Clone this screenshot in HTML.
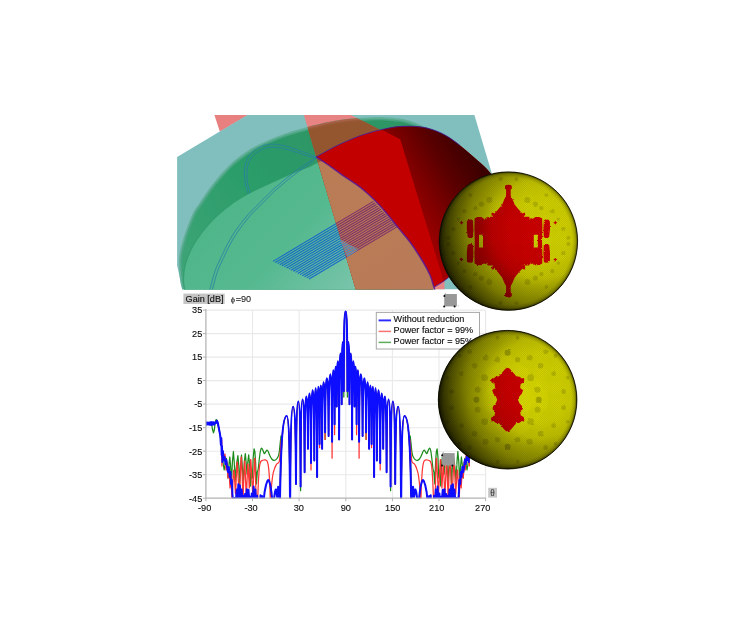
<!DOCTYPE html>
<html><head><meta charset="utf-8"><title>figure</title>
<style>
html,body{margin:0;padding:0;background:#fff;}
body{width:753px;height:628px;overflow:hidden;font-family:"Liberation Sans",sans-serif;}
svg{display:block;}
text{font-family:"Liberation Sans",sans-serif;}
</style></head><body>
<svg width="753" height="628" viewBox="0 0 753 628">
<defs><filter id="gblur" filterUnits="userSpaceOnUse" x="0" y="0" width="753" height="628"><feGaussianBlur stdDeviation="0.42"/></filter></defs>
<rect width="753" height="628" fill="#fff"/>
<g filter="url(#gblur)">
<rect width="753" height="628" fill="#fff"/>
<defs>
<clipPath id="sceneclip"><rect x="177" y="115.0" width="360" height="174.6"/></clipPath>
<clipPath id="pinkclip"><polygon points="303.9,115.0 351.0,115.0 380.3,129.9 470.0,170.0 470.0,289.6 355.7,289.6"/></clipPath>
<linearGradient id="floorg" x1="200" y1="170" x2="340" y2="300" gradientUnits="userSpaceOnUse"><stop offset="0" stop-color="#4cb487"/><stop offset="0.6" stop-color="#55b98f"/><stop offset="1" stop-color="#78c4aa"/></linearGradient>
<linearGradient id="wallg" x1="190" y1="250" x2="330" y2="130" gradientUnits="userSpaceOnUse"><stop offset="0" stop-color="#3aa374"/><stop offset="0.5" stop-color="#2a9d69"/><stop offset="1" stop-color="#2f9565"/></linearGradient>
<linearGradient id="floorb" x1="330" y1="170" x2="420" y2="290" gradientUnits="userSpaceOnUse"><stop offset="0" stop-color="#b97c55"/><stop offset="1" stop-color="#b87a58"/></linearGradient>
<linearGradient id="darkred" x1="395" y1="200" x2="480" y2="150" gradientUnits="userSpaceOnUse"><stop offset="0" stop-color="#a60000"/><stop offset="0.3" stop-color="#820000"/><stop offset="0.6" stop-color="#5a0000"/><stop offset="0.9" stop-color="#3e0000"/><stop offset="1" stop-color="#380000"/></linearGradient>
</defs>
<g clip-path="url(#sceneclip)">
<polygon points="214.4,115.0 248.0,115.0 219.9,131.8" fill="#e88080"/>
<polygon points="247.4,115.0 474.4,115.0 526.5,289.6 182.4,289.6 177.1,265.4 177.1,157.0" fill="#81bfbf"/>
<polygon points="303.9,115.0 351.0,115.0 380.3,129.9 445.0,160.0 444.5,289.6 355.7,289.6" fill="#e88383"/>
<path d="M182.40,290.00 C182.00,288.20 180.58,284.45 180.00,279.20 C179.42,273.95 178.32,265.42 178.90,258.50 C179.48,251.58 181.27,245.05 183.50,237.70 C185.73,230.35 189.73,220.07 192.30,214.40 C194.87,208.73 196.47,207.47 198.90,203.70 C201.33,199.93 204.25,195.55 206.90,191.80 C209.55,188.05 211.93,184.75 214.80,181.20 C217.67,177.65 221.00,173.83 224.10,170.50 C227.20,167.17 230.08,164.07 233.40,161.20 C236.72,158.33 240.45,155.73 244.00,153.30 C247.55,150.87 250.70,148.78 254.70,146.60 C258.70,144.42 262.78,142.43 268.00,140.20 C273.22,137.97 279.47,135.40 286.00,133.20 C292.53,131.00 299.87,128.90 307.20,127.00 C314.53,125.10 322.92,123.17 330.00,121.80 C337.08,120.43 343.03,119.55 349.70,118.80 C356.37,118.05 364.12,117.57 370.00,117.30 C375.88,117.03 380.00,116.98 385.00,117.20 C390.00,117.42 395.50,117.87 400.00,118.60 C404.50,119.33 408.17,120.37 412.00,121.60 C415.83,122.83 417.23,123.62 423.00,126.00 C428.77,128.38 438.25,130.82 446.60,135.90 C454.95,140.98 465.80,150.20 473.10,156.50 C480.40,162.80 487.52,170.83 490.40,173.70 L520,226 L434.0,287.3 L432.6,290 Z" fill="#64b09a"/>
<path d="M184.06,289.63 C183.66,287.86 182.27,284.18 181.69,279.01 C181.11,273.85 180.02,265.45 180.59,258.64 C181.17,251.84 182.92,245.45 185.13,238.19 C187.34,230.94 191.31,220.70 193.85,215.10 C196.38,209.51 197.92,208.34 200.33,204.62 C202.73,200.90 205.66,196.51 208.29,192.78 C210.92,189.06 213.28,185.79 216.12,182.27 C218.97,178.75 222.28,174.95 225.34,171.66 C228.41,168.36 231.24,165.31 234.51,162.49 C237.78,159.66 241.46,157.10 244.96,154.70 C248.46,152.30 251.56,150.25 255.51,148.09 C259.47,145.94 263.50,143.98 268.67,141.76 C273.84,139.55 280.05,137.00 286.54,134.81 C293.04,132.62 300.33,130.54 307.63,128.65 C314.92,126.76 323.28,124.83 330.32,123.47 C337.37,122.11 343.26,121.23 349.89,120.49 C356.52,119.74 364.24,119.26 370.08,119.00 C375.92,118.73 379.98,118.69 384.93,118.90 C389.87,119.11 395.30,119.56 399.73,120.28 C404.15,121.00 407.71,122.00 411.48,123.22 C415.25,124.43 416.64,125.22 422.35,127.57 C428.06,129.93 437.44,132.32 445.72,137.35 C453.99,142.39 464.74,151.53 471.99,157.79 C479.24,164.05 486.33,172.05 489.20,174.91 L520,226 L434.0,287.3 L432.6,290 Z" fill="#48a481"/>
<path d="M185.62,289.28 C185.23,287.54 183.85,283.92 183.28,278.84 C182.71,273.75 181.63,265.47 182.19,258.78 C182.75,252.08 184.47,245.83 186.66,238.66 C188.84,231.49 192.80,221.29 195.31,215.76 C197.81,210.23 199.29,209.17 201.67,205.49 C204.05,201.81 206.98,197.41 209.59,193.70 C212.21,190.00 214.55,186.77 217.37,183.27 C220.19,179.78 223.48,176.01 226.52,172.75 C229.55,169.48 232.33,166.48 235.56,163.70 C238.78,160.91 242.41,158.39 245.87,156.02 C249.32,153.66 252.38,151.63 256.28,149.50 C260.19,147.37 264.17,145.43 269.30,143.23 C274.43,141.04 280.60,138.50 287.05,136.33 C293.51,134.15 300.77,132.08 308.03,130.19 C315.29,128.31 323.62,126.39 330.63,125.04 C337.63,123.69 343.48,122.82 350.07,122.08 C356.66,121.34 364.35,120.86 370.15,120.60 C375.95,120.33 379.97,120.29 384.86,120.50 C389.74,120.71 395.11,121.15 399.47,121.86 C403.82,122.56 407.28,123.54 410.99,124.74 C414.70,125.94 416.09,126.72 421.74,129.05 C427.39,131.38 436.68,133.73 444.88,138.72 C453.08,143.71 463.75,152.78 470.94,159.00 C478.14,165.22 485.22,173.20 488.07,176.04 L520,226 L434.0,287.3 L432.6,290 Z" fill="url(#wallg)"/>
<path d="M184.70,290.00 C184.50,288.20 183.32,283.68 183.50,279.20 C183.68,274.72 183.87,269.25 185.80,263.10 C187.73,256.95 190.87,249.23 195.10,242.30 C199.33,235.37 205.43,227.65 211.20,221.50 C216.97,215.35 223.53,210.02 229.70,205.40 C235.87,200.78 242.43,197.03 248.20,193.80 C253.97,190.57 257.77,189.07 264.30,186.00 C270.83,182.93 281.37,178.07 287.40,175.40 C293.43,172.73 296.77,171.50 300.50,170.00 C304.23,168.50 307.13,167.57 309.80,166.40 C312.47,165.23 314.38,163.90 316.50,163.00 C318.62,162.10 321.50,161.33 322.50,161.00 L322.50,161.00 C323.92,161.97 327.05,164.02 331.00,166.80 C334.95,169.58 342.03,174.80 346.20,177.70 C350.37,180.60 352.87,181.95 356.00,184.20 C359.13,186.45 361.83,188.48 365.00,191.20 C368.17,193.92 371.58,197.03 375.00,200.50 C378.42,203.97 381.60,207.43 385.50,212.00 C389.40,216.57 394.28,222.85 398.40,227.90 C402.52,232.95 406.28,236.95 410.20,242.30 C414.12,247.65 418.60,254.55 421.90,260.00 C425.20,265.45 427.98,270.45 430.00,275.00 C432.02,279.55 433.17,284.80 434.00,287.30 C434.83,289.80 434.83,289.55 435.00,290.00 Z" fill="url(#floorg)"/>
<path d="M184.70,290.00 C184.50,288.20 183.32,283.68 183.50,279.20 C183.68,274.72 183.87,269.25 185.80,263.10 C187.73,256.95 190.87,249.23 195.10,242.30 C199.33,235.37 205.43,227.65 211.20,221.50 C216.97,215.35 223.53,210.02 229.70,205.40 C235.87,200.78 242.43,197.03 248.20,193.80 C253.97,190.57 257.77,189.07 264.30,186.00 C270.83,182.93 281.37,178.07 287.40,175.40 C293.43,172.73 296.77,171.50 300.50,170.00 C304.23,168.50 307.13,167.57 309.80,166.40 C312.47,165.23 314.38,163.90 316.50,163.00 C318.62,162.10 321.50,161.33 322.50,161.00" fill="none" stroke="#2f9a6a" stroke-width="1.2" opacity="0.7"/>
<g clip-path="url(#pinkclip)">
<path d="M182.40,290.00 C182.00,288.20 180.58,284.45 180.00,279.20 C179.42,273.95 178.32,265.42 178.90,258.50 C179.48,251.58 181.27,245.05 183.50,237.70 C185.73,230.35 189.73,220.07 192.30,214.40 C194.87,208.73 196.47,207.47 198.90,203.70 C201.33,199.93 204.25,195.55 206.90,191.80 C209.55,188.05 211.93,184.75 214.80,181.20 C217.67,177.65 221.00,173.83 224.10,170.50 C227.20,167.17 230.08,164.07 233.40,161.20 C236.72,158.33 240.45,155.73 244.00,153.30 C247.55,150.87 250.70,148.78 254.70,146.60 C258.70,144.42 262.78,142.43 268.00,140.20 C273.22,137.97 279.47,135.40 286.00,133.20 C292.53,131.00 299.87,128.90 307.20,127.00 C314.53,125.10 322.92,123.17 330.00,121.80 C337.08,120.43 343.03,119.55 349.70,118.80 C356.37,118.05 364.12,117.57 370.00,117.30 C375.88,117.03 380.00,116.98 385.00,117.20 C390.00,117.42 395.50,117.87 400.00,118.60 C404.50,119.33 408.17,120.37 412.00,121.60 C415.83,122.83 417.23,123.62 423.00,126.00 C428.77,128.38 438.25,130.82 446.60,135.90 C454.95,140.98 465.80,150.20 473.10,156.50 C480.40,162.80 487.52,170.83 490.40,173.70 L520,226 L434.0,287.3 L432.6,290 Z" fill="#a96248"/>
<path d="M184.06,289.63 C183.66,287.86 182.27,284.18 181.69,279.01 C181.11,273.85 180.02,265.45 180.59,258.64 C181.17,251.84 182.92,245.45 185.13,238.19 C187.34,230.94 191.31,220.70 193.85,215.10 C196.38,209.51 197.92,208.34 200.33,204.62 C202.73,200.90 205.66,196.51 208.29,192.78 C210.92,189.06 213.28,185.79 216.12,182.27 C218.97,178.75 222.28,174.95 225.34,171.66 C228.41,168.36 231.24,165.31 234.51,162.49 C237.78,159.66 241.46,157.10 244.96,154.70 C248.46,152.30 251.56,150.25 255.51,148.09 C259.47,145.94 263.50,143.98 268.67,141.76 C273.84,139.55 280.05,137.00 286.54,134.81 C293.04,132.62 300.33,130.54 307.63,128.65 C314.92,126.76 323.28,124.83 330.32,123.47 C337.37,122.11 343.26,121.23 349.89,120.49 C356.52,119.74 364.24,119.26 370.08,119.00 C375.92,118.73 379.98,118.69 384.93,118.90 C389.87,119.11 395.30,119.56 399.73,120.28 C404.15,121.00 407.71,122.00 411.48,123.22 C415.25,124.43 416.64,125.22 422.35,127.57 C428.06,129.93 437.44,132.32 445.72,137.35 C453.99,142.39 464.74,151.53 471.99,157.79 C479.24,164.05 486.33,172.05 489.20,174.91 L520,226 L434.0,287.3 L432.6,290 Z" fill="#9a5a38"/>
<path d="M185.62,289.28 C185.23,287.54 183.85,283.92 183.28,278.84 C182.71,273.75 181.63,265.47 182.19,258.78 C182.75,252.08 184.47,245.83 186.66,238.66 C188.84,231.49 192.80,221.29 195.31,215.76 C197.81,210.23 199.29,209.17 201.67,205.49 C204.05,201.81 206.98,197.41 209.59,193.70 C212.21,190.00 214.55,186.77 217.37,183.27 C220.19,179.78 223.48,176.01 226.52,172.75 C229.55,169.48 232.33,166.48 235.56,163.70 C238.78,160.91 242.41,158.39 245.87,156.02 C249.32,153.66 252.38,151.63 256.28,149.50 C260.19,147.37 264.17,145.43 269.30,143.23 C274.43,141.04 280.60,138.50 287.05,136.33 C293.51,134.15 300.77,132.08 308.03,130.19 C315.29,128.31 323.62,126.39 330.63,125.04 C337.63,123.69 343.48,122.82 350.07,122.08 C356.66,121.34 364.35,120.86 370.15,120.60 C375.95,120.33 379.97,120.29 384.86,120.50 C389.74,120.71 395.11,121.15 399.47,121.86 C403.82,122.56 407.28,123.54 410.99,124.74 C414.70,125.94 416.09,126.72 421.74,129.05 C427.39,131.38 436.68,133.73 444.88,138.72 C453.08,143.71 463.75,152.78 470.94,159.00 C478.14,165.22 485.22,173.20 488.07,176.04 L520,226 L434.0,287.3 L432.6,290 Z" fill="#94562f"/>
<path d="M184.70,290.00 C184.50,288.20 183.32,283.68 183.50,279.20 C183.68,274.72 183.87,269.25 185.80,263.10 C187.73,256.95 190.87,249.23 195.10,242.30 C199.33,235.37 205.43,227.65 211.20,221.50 C216.97,215.35 223.53,210.02 229.70,205.40 C235.87,200.78 242.43,197.03 248.20,193.80 C253.97,190.57 257.77,189.07 264.30,186.00 C270.83,182.93 281.37,178.07 287.40,175.40 C293.43,172.73 296.77,171.50 300.50,170.00 C304.23,168.50 307.13,167.57 309.80,166.40 C312.47,165.23 314.38,163.90 316.50,163.00 C318.62,162.10 321.50,161.33 322.50,161.00 L322.50,161.00 C323.92,161.97 327.05,164.02 331.00,166.80 C334.95,169.58 342.03,174.80 346.20,177.70 C350.37,180.60 352.87,181.95 356.00,184.20 C359.13,186.45 361.83,188.48 365.00,191.20 C368.17,193.92 371.58,197.03 375.00,200.50 C378.42,203.97 381.60,207.43 385.50,212.00 C389.40,216.57 394.28,222.85 398.40,227.90 C402.52,232.95 406.28,236.95 410.20,242.30 C414.12,247.65 418.60,254.55 421.90,260.00 C425.20,265.45 427.98,270.45 430.00,275.00 C432.02,279.55 433.17,284.80 434.00,287.30 C434.83,289.80 434.83,289.55 435.00,290.00 Z" fill="url(#floorb)"/>
</g>
<path d="M248.40,193.80 C247.98,192.58 246.50,188.90 245.90,186.50 C245.30,184.10 245.05,181.65 244.80,179.40 C244.55,177.15 244.40,174.98 244.40,173.00 C244.40,171.02 244.53,169.37 244.80,167.50 C245.07,165.63 245.40,163.60 246.00,161.80 C246.60,160.00 247.48,158.20 248.40,156.70 C249.32,155.20 250.32,153.98 251.50,152.80 C252.68,151.62 253.43,150.83 255.50,149.60 C257.57,148.37 260.70,146.30 263.90,145.40 C267.10,144.50 270.72,144.00 274.70,144.20 C278.68,144.40 283.62,145.50 287.80,146.60 C291.98,147.70 296.22,149.52 299.80,150.80 C303.38,152.08 306.52,153.22 309.30,154.30 C312.08,155.38 315.30,156.80 316.50,157.30" fill="none" stroke="#2a7fa5" stroke-width="0.95" opacity="0.85"/>
<path d="M250.20,192.60 C249.83,191.50 248.50,188.20 248.00,186.00 C247.50,183.80 247.37,181.57 247.20,179.40 C247.03,177.23 246.97,174.88 247.00,173.00 C247.03,171.12 247.13,169.77 247.40,168.10 C247.67,166.43 248.03,164.60 248.60,163.00 C249.17,161.40 249.97,159.80 250.80,158.50 C251.63,157.20 252.52,156.28 253.60,155.20 C254.68,154.12 255.38,153.18 257.30,152.00 C259.22,150.82 262.20,148.90 265.10,148.10 C268.00,147.30 270.92,146.95 274.70,147.20 C278.48,147.45 283.62,148.57 287.80,149.60 C291.98,150.63 296.32,152.25 299.80,153.40 C303.28,154.55 305.92,155.85 308.70,156.50 C311.48,157.15 315.20,157.17 316.50,157.30" fill="none" stroke="#2a7fa5" stroke-width="0.95" opacity="0.85"/>
<path d="M316.50,157.30 C314.90,158.30 310.08,161.20 306.90,163.30 C303.72,165.40 300.58,167.62 297.40,169.90 C294.22,172.18 290.80,174.62 287.80,177.00 C284.80,179.38 281.98,182.00 279.40,184.20 C276.82,186.40 274.88,187.80 272.30,190.20 C269.72,192.60 266.70,195.82 263.90,198.60 C261.10,201.38 258.35,204.00 255.50,206.90 C252.65,209.80 249.93,212.32 246.80,216.00 C243.67,219.68 239.67,224.78 236.70,229.00 C233.73,233.22 231.55,236.70 229.00,241.30 C226.45,245.90 223.68,251.77 221.40,256.60 C219.12,261.43 217.22,264.83 215.30,270.30 C213.38,275.77 210.83,285.95 209.90,289.40 C208.97,292.85 209.73,290.73 209.70,291.00" fill="none" stroke="#2a7fa5" stroke-width="0.95" opacity="0.85"/>
<path d="M316.50,157.30 C315.28,158.45 312.00,161.95 309.20,164.20 C306.40,166.45 302.88,168.52 299.70,170.80 C296.52,173.08 293.10,175.52 290.10,177.90 C287.10,180.28 284.28,182.90 281.70,185.10 C279.12,187.30 277.18,188.70 274.60,191.10 C272.02,193.50 269.00,196.72 266.20,199.50 C263.40,202.28 260.65,204.90 257.80,207.80 C254.95,210.70 252.23,213.22 249.10,216.90 C245.97,220.58 241.97,225.68 239.00,229.90 C236.03,234.12 233.85,237.60 231.30,242.20 C228.75,246.80 225.98,252.67 223.70,257.50 C221.42,262.33 219.52,265.73 217.60,271.20 C215.68,276.67 213.13,286.85 212.20,290.30 C211.27,293.75 212.03,291.63 212.00,291.90" fill="none" stroke="#2a7fa5" stroke-width="0.95" opacity="0.85"/>
<defs><clipPath id="arcclip"><path d="M184.70,290.00 C184.50,288.20 183.32,283.68 183.50,279.20 C183.68,274.72 183.87,269.25 185.80,263.10 C187.73,256.95 190.87,249.23 195.10,242.30 C199.33,235.37 205.43,227.65 211.20,221.50 C216.97,215.35 223.53,210.02 229.70,205.40 C235.87,200.78 242.43,197.03 248.20,193.80 C253.97,190.57 257.77,189.07 264.30,186.00 C270.83,182.93 281.37,178.07 287.40,175.40 C293.43,172.73 296.77,171.50 300.50,170.00 C304.23,168.50 307.13,167.57 309.80,166.40 C312.47,165.23 314.38,163.90 316.50,163.00 C318.62,162.10 321.50,161.33 322.50,161.00 L322.50,161.00 C323.92,161.97 327.05,164.02 331.00,166.80 C334.95,169.58 342.03,174.80 346.20,177.70 C350.37,180.60 352.87,181.95 356.00,184.20 C359.13,186.45 361.83,188.48 365.00,191.20 C368.17,193.92 371.58,197.03 375.00,200.50 C378.42,203.97 381.60,207.43 385.50,212.00 C389.40,216.57 394.28,222.85 398.40,227.90 C402.52,232.95 406.28,236.95 410.20,242.30 C414.12,247.65 418.60,254.55 421.90,260.00 C425.20,265.45 427.98,270.45 430.00,275.00 C432.02,279.55 433.17,284.80 434.00,287.30 C434.83,289.80 434.83,289.55 435.00,290.00 Z"/></clipPath>
<clipPath id="notpink"><polygon points="177,115 303.9,115 355.7,289.6 177,289.6"/></clipPath></defs>
<g clip-path="url(#arcclip)">
<g clip-path="url(#notpink)"><path d="M273.00,261.40 L373.40,201.40 M275.25,262.50 L374.89,202.97 M277.50,263.60 L376.39,204.55 M279.75,264.70 L377.88,206.12 M282.00,265.80 L379.38,207.70 M284.25,266.90 L380.87,209.28 M286.50,268.00 L382.36,210.85 M288.75,269.10 L383.86,212.43 M291.00,270.20 L385.35,214.00 M293.25,271.30 L386.84,215.57 M295.50,272.40 L388.34,217.15 M297.75,273.50 L389.83,218.72 M300.00,274.60 L391.32,220.30 M302.25,275.70 L392.82,221.88 M304.50,276.80 L394.31,223.45 M306.75,277.90 L395.81,225.03 M309.00,279.00 L397.30,226.60" stroke="#1668c8" stroke-width="1.08" fill="none"/></g>
<g clip-path="url(#pinkclip)"><path d="M273.00,261.40 L373.40,201.40 M275.25,262.50 L374.89,202.97 M277.50,263.60 L376.39,204.55 M279.75,264.70 L377.88,206.12 M282.00,265.80 L379.38,207.70 M284.25,266.90 L380.87,209.28 M286.50,268.00 L382.36,210.85 M288.75,269.10 L383.86,212.43 M291.00,270.20 L385.35,214.00 M293.25,271.30 L386.84,215.57 M295.50,272.40 L388.34,217.15 M297.75,273.50 L389.83,218.72 M300.00,274.60 L391.32,220.30 M302.25,275.70 L392.82,221.88 M304.50,276.80 L394.31,223.45 M306.75,277.90 L395.81,225.03 M309.00,279.00 L397.30,226.60" stroke="#7c3068" stroke-width="1.08" fill="none"/></g>
<defs><clipPath id="tri"><polygon points="339.5,239 358.5,249.6 347.5,257.5"/></clipPath></defs>
<g clip-path="url(#tri)"><polygon points="339.5,239 358.5,249.6 347.5,257.5" fill="#b97c55"/><path d="M273.00,261.40 L373.40,201.40 M275.25,262.50 L374.89,202.97 M277.50,263.60 L376.39,204.55 M279.75,264.70 L377.88,206.12 M282.00,265.80 L379.38,207.70 M284.25,266.90 L380.87,209.28 M286.50,268.00 L382.36,210.85 M288.75,269.10 L383.86,212.43 M291.00,270.20 L385.35,214.00 M293.25,271.30 L386.84,215.57 M295.50,272.40 L388.34,217.15 M297.75,273.50 L389.83,218.72 M300.00,274.60 L391.32,220.30 M302.25,275.70 L392.82,221.88 M304.50,276.80 L394.31,223.45 M306.75,277.90 L395.81,225.03 M309.00,279.00 L397.30,226.60" stroke="#3f86d0" stroke-width="1.08" fill="none"/></g>
</g>
<path d="M316.20,156.90 C319.57,155.07 329.72,149.18 336.40,145.90 C343.08,142.62 350.70,139.42 356.30,137.20 C361.90,134.98 366.00,133.82 370.00,132.60 C374.00,131.38 375.60,130.90 380.30,129.90 C385.00,128.90 391.90,127.15 398.20,126.60 C404.50,126.05 412.25,126.05 418.10,126.60 C423.95,127.15 428.55,128.35 433.30,129.90 C438.05,131.45 442.18,133.35 446.60,135.90 C451.02,138.45 455.38,141.77 459.80,145.20 C464.22,148.63 468.67,152.63 473.10,156.50 C477.53,160.37 482.75,164.65 486.40,168.40 C490.05,172.15 493.57,177.23 495.00,179.00 L520,200 L520,260 L450,276 L443.5,281.5 L434.0,287.3 L434.00,287.30 C433.33,285.25 432.02,279.55 430.00,275.00 C427.98,270.45 425.20,265.45 421.90,260.00 C418.60,254.55 414.12,247.65 410.20,242.30 C406.28,236.95 402.52,232.95 398.40,227.90 C394.28,222.85 389.40,216.57 385.50,212.00 C381.60,207.43 378.42,203.97 375.00,200.50 C371.58,197.03 368.17,193.92 365.00,191.20 C361.83,188.48 359.13,186.45 356.00,184.20 C352.87,181.95 350.37,180.60 346.20,177.70 C342.03,174.80 336.00,170.27 331.00,166.80 C326.00,163.33 318.67,158.55 316.20,156.90 Z" fill="#c30000"/>
<defs><clipPath id="redclip"><path d="M316.20,156.90 C319.57,155.07 329.72,149.18 336.40,145.90 C343.08,142.62 350.70,139.42 356.30,137.20 C361.90,134.98 366.00,133.82 370.00,132.60 C374.00,131.38 375.60,130.90 380.30,129.90 C385.00,128.90 391.90,127.15 398.20,126.60 C404.50,126.05 412.25,126.05 418.10,126.60 C423.95,127.15 428.55,128.35 433.30,129.90 C438.05,131.45 442.18,133.35 446.60,135.90 C451.02,138.45 455.38,141.77 459.80,145.20 C464.22,148.63 468.67,152.63 473.10,156.50 C477.53,160.37 482.75,164.65 486.40,168.40 C490.05,172.15 493.57,177.23 495.00,179.00 L520,200 L520,260 L450,276 L443.5,281.5 L434.0,287.3 L434.00,287.30 C433.33,285.25 432.02,279.55 430.00,275.00 C427.98,270.45 425.20,265.45 421.90,260.00 C418.60,254.55 414.12,247.65 410.20,242.30 C406.28,236.95 402.52,232.95 398.40,227.90 C394.28,222.85 389.40,216.57 385.50,212.00 C381.60,207.43 378.42,203.97 375.00,200.50 C371.58,197.03 368.17,193.92 365.00,191.20 C361.83,188.48 359.13,186.45 356.00,184.20 C352.87,181.95 350.37,180.60 346.20,177.70 C342.03,174.80 336.00,170.27 331.00,166.80 C326.00,163.33 318.67,158.55 316.20,156.90 Z"/></clipPath></defs>
<g clip-path="url(#redclip)">
<polygon points="380.3,129.0 400.2,139.2 403.5,150.0 441.5,274.0 446.0,295.0 530.0,295.0 530.0,110.0 380.0,110.0" fill="url(#darkred)"/>
</g>
<path d="M316.20,156.90 C318.67,158.55 326.00,163.33 331.00,166.80 C336.00,170.27 342.03,174.80 346.20,177.70 C350.37,180.60 352.87,181.95 356.00,184.20 C359.13,186.45 361.83,188.48 365.00,191.20 C368.17,193.92 371.58,197.03 375.00,200.50 C378.42,203.97 381.60,207.43 385.50,212.00 C389.40,216.57 394.28,222.85 398.40,227.90 C402.52,232.95 406.28,236.95 410.20,242.30 C414.12,247.65 418.60,254.55 421.90,260.00 C425.20,265.45 427.98,270.45 430.00,275.00 C432.02,279.55 433.17,284.80 434.00,287.30 C434.83,289.80 434.83,289.55 435.00,290.00" fill="none" stroke="#5a1898" stroke-width="1.5" opacity="0.85"/>
<path d="M316.20,156.90 C319.57,155.07 329.72,149.18 336.40,145.90 C343.08,142.62 350.70,139.42 356.30,137.20 C361.90,134.98 366.00,133.82 370.00,132.60 C374.00,131.38 375.60,130.90 380.30,129.90 C385.00,128.90 391.90,127.15 398.20,126.60 C404.50,126.05 412.25,126.05 418.10,126.60 C423.95,127.15 428.55,128.35 433.30,129.90 C438.05,131.45 442.18,133.35 446.60,135.90 C451.02,138.45 457.60,143.65 459.80,145.20" fill="none" stroke="#3a20a8" stroke-width="1.0" opacity="0.8"/>
<path d="M434.0,287.3 L443.5,281.5 L452,275" fill="none" stroke="#4a30b8" stroke-width="1.0" opacity="0.8"/>
</g>
<path d="M252.5,310.1 V498.2 M299.1,310.1 V498.2 M345.8,310.1 V498.2 M392.4,310.1 V498.2 M439.0,310.1 V498.2 M485.6,310.1 V498.2 M205.9,310.1 H485.6 M205.9,333.6 H485.6 M205.9,357.1 H485.6 M205.9,380.6 H485.6 M205.9,404.1 H485.6 M205.9,427.7 H485.6 M205.9,451.2 H485.6 M205.9,474.7 H485.6" stroke="#e9e9e9" stroke-width="1.1" fill="none"/>
<defs><clipPath id="plotclip"><rect x="205.9" y="307.1" width="279.7" height="191.4"/></clipPath></defs>
<g clip-path="url(#plotclip)" fill="none" stroke-linejoin="round" stroke-linecap="round">
<path id="c3" d="M206.00,423.50 L210.80,423.60 L211.80,425.00 L212.60,430.00 L213.50,432.80 L214.30,430.00 L215.00,424.00 L215.60,420.80 L216.20,419.60 L217.00,420.60 L218.60,427.00 L220.30,436.00 L221.50,446.00 L222.30,452.00 L223.20,464.00 L224.20,470.00 L225.20,464.00 L226.40,458.30 L227.20,466.00 L228.00,478.00 L228.90,465.00 L229.80,457.00 L230.60,466.00 L231.50,482.00 L232.40,462.00 L233.40,451.50 L234.20,462.00 L235.20,481.00 L236.00,470.00 L236.90,462.00 L237.90,455.60 L238.80,466.00 L239.60,485.00 L240.50,466.00 L241.50,455.00 L242.40,468.00 L243.30,483.00 L244.30,462.00 L245.30,453.60 L246.20,463.00 L247.00,474.00 L247.80,462.00 L248.70,454.90 L249.60,465.00 L250.50,486.00 L251.50,470.00 L252.40,478.00 L253.20,458.00 L254.10,448.80 L254.90,452.00 L255.60,462.00 L256.40,484.00 L257.30,472.00 L257.30,472.00 C257.45,471.50 257.88,471.00 258.20,469.00 C258.52,467.00 258.83,463.00 259.20,460.00 C259.57,457.00 260.00,452.97 260.40,451.00 C260.80,449.03 261.20,448.37 261.60,448.20 C262.00,448.03 262.35,449.10 262.80,450.00 C263.25,450.90 263.83,453.27 264.30,453.60 C264.77,453.93 265.15,452.57 265.60,452.00 C266.05,451.43 266.53,450.20 267.00,450.20 C267.47,450.20 267.90,451.03 268.40,452.00 C268.90,452.97 269.43,454.83 270.00,456.00 C270.57,457.17 271.18,458.28 271.80,459.00 C272.42,459.72 273.08,460.13 273.70,460.30 C274.32,460.47 274.95,460.30 275.50,460.00 C276.05,459.70 276.50,459.23 277.00,458.50 C277.50,457.77 278.10,456.85 278.50,455.60 C278.90,454.35 279.15,452.77 279.40,451.00 C279.65,449.23 279.73,447.50 280.00,445.00 C280.27,442.50 280.83,437.50 281.00,436.00 L279.80,514.66 C280.63,440.75 282.91,416.12 286.70,416.12 C288.57,416.12 289.69,440.75 290.10,514.66 C290.45,433.69 291.43,406.69 293.05,406.69 C294.67,406.69 295.65,426.04 296.00,484.09 C296.28,422.16 297.04,401.52 298.30,401.52 C299.56,401.52 300.32,423.81 300.60,490.68 C300.84,422.25 301.50,399.45 302.60,399.45 C303.70,399.45 304.36,417.67 304.60,472.34 C304.80,415.49 305.37,396.55 306.30,396.55 C307.24,396.55 307.80,409.62 308.00,448.82 C308.18,407.27 308.68,393.42 309.50,393.42 C310.32,393.42 310.82,410.80 311.00,462.93 C311.20,408.42 311.74,390.25 312.65,390.25 C313.56,390.25 314.10,407.83 314.30,460.58 C314.47,406.41 314.93,388.35 315.70,388.35 C316.47,388.35 316.93,410.52 317.10,477.04 C317.25,409.39 317.66,386.84 318.35,386.84 C319.04,386.84 319.45,401.16 319.60,444.12 C319.75,400.10 320.16,385.42 320.85,385.42 C321.54,385.42 321.95,401.27 322.10,448.82 C322.28,398.88 322.78,382.23 323.60,382.23 C324.43,382.23 324.92,396.53 325.10,439.42 C325.31,393.61 325.89,378.35 326.85,378.35 C327.81,378.35 328.39,392.73 328.60,435.89 C328.81,389.72 329.39,374.33 330.35,374.33 C331.31,374.33 331.89,391.19 332.10,441.77 C332.25,388.16 332.66,370.29 333.35,370.29 C334.04,370.29 334.45,383.76 334.60,424.14 C334.73,381.02 335.07,366.65 335.65,366.65 C336.23,366.65 336.57,376.61 336.70,406.50 C336.84,372.54 337.24,361.23 337.90,361.23 C338.56,361.23 338.96,380.77 339.10,439.42 C339.26,374.91 339.69,353.40 340.40,353.40 C341.12,353.40 341.54,366.09 341.70,404.15 C341.83,357.46 342.17,341.90 342.75,341.90 C343.33,341.90 343.67,355.70 343.80,397.10 C343.95,324.55 344.35,312.25 345.60,311.75" stroke="#1d8c1d" stroke-width="1.25"/>
<use href="#c3" transform="translate(691.20,0) scale(-1,1)"/>
<path id="c2" d="M206.00,423.50 L215.00,423.50 L216.90,420.60 L218.60,427.00 L220.30,436.00 L221.20,441.00 L221.70,440.00 L221.90,466.00 L222.60,452.00 L223.50,458.00 L225.00,454.00 L226.00,470.00 L227.00,462.00 L228.00,478.00 L229.00,470.00 L230.00,488.00 L231.00,476.00 L232.00,499.00 L233.65,470.00 L233.95,470.00 L235.50,494.00 L237.05,462.00 L237.35,462.00 L239.25,499.00 L241.15,457.00 L241.45,457.00 L243.00,499.00 L244.55,461.00 L244.85,461.00 L246.30,499.00 L247.75,464.00 L248.05,464.00 L249.30,488.00 L250.55,459.70 L250.85,459.70 L252.75,494.00 L254.65,458.30 L254.95,458.30 L256.15,499.00 L256.15,499.00 C256.38,499.17 257.11,503.17 257.50,500.00 C257.89,496.83 258.17,485.60 258.50,480.00 C258.83,474.40 259.15,469.40 259.50,466.40 C259.85,463.40 260.25,462.93 260.60,462.00 C260.95,461.07 261.03,461.13 261.60,460.80 C262.17,460.47 263.27,460.10 264.00,460.00 C264.73,459.90 265.47,460.00 266.00,460.20 C266.53,460.40 266.83,460.40 267.20,461.20 C267.57,462.00 267.90,463.23 268.20,465.00 C268.50,466.77 268.73,468.47 269.00,471.80 C269.27,475.13 269.57,480.13 269.80,485.00 C270.03,489.87 270.18,499.83 270.40,501.00 C270.62,502.17 270.85,495.17 271.10,492.00 C271.35,488.83 271.58,485.00 271.90,482.00 C272.22,479.00 272.58,476.15 273.00,474.00 C273.42,471.85 273.93,470.50 274.40,469.10 C274.87,467.70 275.35,466.50 275.80,465.60 C276.25,464.70 276.67,464.17 277.10,463.70 C277.53,463.23 278.02,463.25 278.40,462.80 C278.78,462.35 279.08,462.80 279.40,461.00 C279.72,459.20 280.00,455.50 280.30,452.00 C280.60,448.50 281.05,442.00 281.20,440.00 L279.80,514.66 C280.63,440.75 282.91,416.12 286.70,416.12 C288.57,416.12 289.69,440.75 290.10,514.66 C290.45,433.69 291.43,406.69 293.05,406.69 C294.67,406.69 295.65,426.04 296.00,484.09 C296.28,422.16 297.04,401.52 298.30,401.52 C299.56,401.52 300.32,422.75 300.60,486.44 C300.84,421.20 301.50,399.45 302.60,399.45 C303.70,399.45 304.36,417.67 304.60,472.34 C304.80,415.49 305.37,396.55 306.30,396.55 C307.24,396.55 307.80,409.62 308.00,448.82 C308.18,407.27 308.68,393.42 309.50,393.42 C310.32,393.42 310.82,412.56 311.00,469.99 C311.20,410.18 311.74,390.25 312.65,390.25 C313.56,390.25 314.10,407.83 314.30,460.58 C314.47,406.41 314.93,388.35 315.70,388.35 C316.47,388.35 316.93,410.52 317.10,477.04 C317.25,409.39 317.66,386.84 318.35,386.84 C319.04,386.84 319.45,402.04 319.60,447.65 C319.75,400.98 320.16,385.42 320.85,385.42 C321.54,385.42 321.95,401.27 322.10,448.82 C322.28,398.88 322.78,382.23 323.60,382.23 C324.43,382.23 324.92,396.53 325.10,439.42 C325.31,393.61 325.89,378.35 326.85,378.35 C327.81,378.35 328.39,392.73 328.60,435.89 C328.81,389.72 329.39,374.33 330.35,374.33 C331.31,374.33 331.89,395.30 332.10,458.23 C332.25,392.28 332.66,370.29 333.35,370.29 C334.04,370.29 334.45,386.40 334.60,434.72 C334.73,383.66 335.07,366.65 335.65,366.65 C336.23,366.65 336.57,376.61 336.70,406.50 C336.84,372.54 337.24,361.23 337.90,361.23 C338.56,361.23 338.96,380.77 339.10,439.42 C339.26,374.91 339.69,353.40 340.40,353.40 C341.12,353.40 341.54,366.09 341.70,404.15 C341.83,357.46 342.17,341.90 342.75,341.90 C343.33,341.90 343.67,354.23 343.80,391.22 C343.95,323.67 344.35,312.25 345.60,311.75" stroke="#ff3434" stroke-width="1.25"/>
<use href="#c2" transform="translate(691.20,0) scale(-1,1)"/>
<path id="c1" d="M206.00,422.36 L206.75,424.62 L207.50,422.62 L208.25,424.56 L209.00,422.53 L209.75,424.79 L210.50,422.15 L211.25,424.91 L212.00,422.13 L212.75,424.85 L213.50,422.16 L214.25,424.57 L215.00,422.44 L216.00,423.00 L216.90,420.60 L217.80,422.50 L218.60,427.00 L219.60,432.00 L220.30,436.00 L220.90,445.00 L221.30,438.00 L221.70,455.00 L222.00,446.00 L222.40,462.00 L222.90,451.00 L223.70,460.00 L224.60,457.00 L225.50,464.00 L226.30,460.00 L227.10,467.00 L228.00,472.00 L228.80,467.00 L229.70,477.00 L230.40,472.00 L231.00,484.00 L231.80,480.00 L232.50,496.00 L233.20,499.48 L233.97,508.01 L234.85,498.06 L235.72,505.02 L236.66,489.56 L237.58,498.08 L238.36,484.34 L239.17,497.73 L239.96,485.47 L240.84,498.89 L241.70,489.48 L242.46,502.58 L243.34,495.85 L244.16,510.05 L245.00,493.99 L245.91,505.47 L246.71,489.34 L247.56,502.79 L248.46,489.65 L249.40,501.87 L250.24,496.75 L251.02,507.27 L251.77,493.45 L252.68,502.71 L253.60,486.53 L254.49,499.60 L255.36,489.39 L256.28,508.46 L257.12,495.66 L257.88,511.42 L258.76,499.98 L259.68,507.48 L260.50,495.27 L261.26,506.30 L262.04,496.00 L262.80,512.91 L263.60,501.00 L264.60,492.00 L266.00,485.00 L267.40,481.00 L268.30,480.00 L269.30,481.50 L270.50,486.00 L271.50,493.00 L272.40,501.00 L274.00,499.00 L275.00,492.00 L275.80,489.40 L276.60,493.00 L277.20,497.00 L277.70,490.00 L278.20,486.70 L278.80,491.00 L279.40,500.00 L279.80,514.66 C280.63,440.75 282.91,416.12 286.70,416.12 C288.57,416.12 289.69,440.75 290.10,514.66 C290.45,433.69 291.43,406.69 293.05,406.69 C294.67,406.69 295.65,426.04 296.00,484.09 C296.28,422.16 297.04,401.52 298.30,401.52 C299.56,401.52 300.32,422.75 300.60,486.44 C300.84,421.20 301.50,399.45 302.60,399.45 C303.70,399.45 304.36,417.67 304.60,472.34 C304.80,415.49 305.37,396.55 306.30,396.55 C307.24,396.55 307.80,409.62 308.00,448.82 C308.18,407.27 308.68,393.42 309.50,393.42 C310.32,393.42 310.82,410.80 311.00,462.93 C311.20,408.42 311.74,390.25 312.65,390.25 C313.56,390.25 314.10,407.83 314.30,460.58 C314.47,406.41 314.93,388.35 315.70,388.35 C316.47,388.35 316.93,410.52 317.10,477.04 C317.25,409.39 317.66,386.84 318.35,386.84 C319.04,386.84 319.45,401.16 319.60,444.12 C319.75,400.10 320.16,385.42 320.85,385.42 C321.54,385.42 321.95,401.27 322.10,448.82 C322.28,398.88 322.78,382.23 323.60,382.23 C324.43,382.23 324.92,394.76 325.10,432.37 C325.31,391.85 325.89,378.35 326.85,378.35 C327.81,378.35 328.39,392.73 328.60,435.89 C328.81,389.72 329.39,374.33 330.35,374.33 C331.31,374.33 331.89,391.19 332.10,441.77 C332.25,388.16 332.66,370.29 333.35,370.29 C334.04,370.29 334.45,383.76 334.60,424.14 C334.73,381.02 335.07,366.65 335.65,366.65 C336.23,366.65 336.57,376.61 336.70,406.50 C336.84,372.54 337.24,361.23 337.90,361.23 C338.56,361.23 338.96,380.77 339.10,439.42 C339.26,374.91 339.69,353.40 340.40,353.40 C341.12,353.40 341.54,366.09 341.70,404.15 C341.83,357.46 342.17,341.90 342.75,341.90 C343.33,341.90 343.67,354.23 343.80,391.22 C343.95,323.67 344.35,312.25 345.60,311.75" stroke="#0808ff" stroke-width="2.00"/>
<use href="#c1" transform="translate(691.20,0) scale(-1,1)"/>
</g>
<path d="M205.9,309.1 V498.2 H486.1" stroke="#b4b4b4" stroke-width="1.25" fill="none"/>
<path d="M205.9,498.2 v3 M252.5,498.2 v3 M299.1,498.2 v3 M345.8,498.2 v3 M392.4,498.2 v3 M439.0,498.2 v3 M485.6,498.2 v3 M205.9,310.1 h-3 M205.9,333.6 h-3 M205.9,357.1 h-3 M205.9,380.6 h-3 M205.9,404.1 h-3 M205.9,427.7 h-3 M205.9,451.2 h-3 M205.9,474.7 h-3 M205.9,498.2 h-3" stroke="#b0b0b0" stroke-width="1" fill="none"/>
<g font-size="9.2" fill="#0c0c0c" stroke="#0c0c0c" stroke-width="0.12">
<text x="202.3" y="313.4" text-anchor="end">35</text>
<text x="202.3" y="336.9" text-anchor="end">25</text>
<text x="202.3" y="360.4" text-anchor="end">15</text>
<text x="202.3" y="383.9" text-anchor="end">5</text>
<text x="202.3" y="407.4" text-anchor="end">-5</text>
<text x="202.3" y="431.0" text-anchor="end">-15</text>
<text x="202.3" y="454.5" text-anchor="end">-25</text>
<text x="202.3" y="478.0" text-anchor="end">-35</text>
<text x="202.3" y="501.5" text-anchor="end">-45</text>
<text x="204.7" y="511.2" text-anchor="middle">-90</text>
<text x="251.1" y="511.2" text-anchor="middle">-30</text>
<text x="298.8" y="511.2" text-anchor="middle">30</text>
<text x="345.8" y="511.2" text-anchor="middle">90</text>
<text x="392.7" y="511.2" text-anchor="middle">150</text>
<text x="436.7" y="511.2" text-anchor="middle">210</text>
<text x="482.7" y="511.2" text-anchor="middle">270</text>
</g>
<rect x="183.4" y="293.6" width="41.3" height="10.3" fill="#c4c4c4"/>
<text x="185.6" y="302.1" font-size="9.1" fill="#0c0c0c" stroke="#0c0c0c" stroke-width="0.12">Gain [dB]</text>
<text x="230.8" y="302.1" font-size="9.1" fill="#1c1c1c" stroke="#1c1c1c" stroke-width="0.1"><tspan font-size="7.6">&#981;</tspan><tspan dx="0.6">=90</tspan></text>
<rect x="376.3" y="312.4" width="103.2" height="36.6" fill="#fff" stroke="#a8a8a8" stroke-width="1"/>
<path d="M378.6,320.4 H391" stroke="#2a2aff" stroke-width="1.9"/>
<text x="393.6" y="322.2" font-size="9.1" fill="#0c0c0c" stroke="#0c0c0c" stroke-width="0.12">Without reduction</text>
<path d="M378.6,331.4 H391" stroke="#f87272" stroke-width="1.5"/>
<text x="393.6" y="333.2" font-size="9.1" fill="#0c0c0c" stroke="#0c0c0c" stroke-width="0.12">Power factor = 99%</text>
<path d="M378.6,342.4 H391" stroke="#5cac5c" stroke-width="1.5"/>
<text x="393.6" y="344.2" font-size="9.1" fill="#0c0c0c" stroke="#0c0c0c" stroke-width="0.12">Power factor = 95%</text>
<rect x="444.2" y="294.0" width="12.7" height="12.4" fill="#989898"/>
<circle cx="444.4" cy="296.1" r="1.0" fill="#080808"/>
<circle cx="444.2" cy="306.5" r="1.0" fill="#080808"/>
<circle cx="454.6" cy="306.5" r="1.0" fill="#080808"/>
<circle cx="445.4" cy="293.3" r="0.6" fill="#b8b8b8"/>
<circle cx="458.4" cy="305.8" r="0.6" fill="#c8c8c8"/>
<rect x="442.0" y="453.1" width="12.7" height="12.4" fill="#989898"/>
<circle cx="442.2" cy="455.2" r="1.0" fill="#080808"/>
<circle cx="442.0" cy="465.6" r="1.0" fill="#080808"/>
<circle cx="452.4" cy="465.6" r="1.0" fill="#080808"/>
<circle cx="443.2" cy="452.4" r="0.6" fill="#b8b8b8"/>
<circle cx="456.2" cy="464.9" r="0.6" fill="#c8c8c8"/>
<rect x="488.2" y="487.8" width="8.8" height="9.8" fill="#c6c6c6"/>
<text x="492.6" y="496.0" font-size="9.4" fill="#2a2a2a" text-anchor="middle" style="font-family:'Liberation Serif',serif">&#952;</text>
<defs>
<radialGradient id="shade" gradientUnits="userSpaceOnUse" cx="33" cy="-12" r="110"><stop offset="0" stop-color="#000" stop-opacity="0.02"/><stop offset="0.3" stop-color="#000" stop-opacity="0.05"/><stop offset="0.45" stop-color="#000" stop-opacity="0.12"/><stop offset="0.55" stop-color="#000" stop-opacity="0.26"/><stop offset="0.68" stop-color="#000" stop-opacity="0.40"/><stop offset="0.8" stop-color="#000" stop-opacity="0.60"/><stop offset="0.88" stop-color="#000" stop-opacity="0.74"/><stop offset="0.95" stop-color="#000" stop-opacity="0.84"/><stop offset="1" stop-color="#000" stop-opacity="0.9"/></radialGradient>
<radialGradient id="rim" gradientUnits="userSpaceOnUse" cx="0" cy="0" r="69.4"><stop offset="0" stop-color="#000" stop-opacity="0"/><stop offset="0.92" stop-color="#000" stop-opacity="0"/><stop offset="0.965" stop-color="#000" stop-opacity="0.16"/><stop offset="0.99" stop-color="#000" stop-opacity="0.5"/><stop offset="1" stop-color="#000" stop-opacity="0.9"/></radialGradient>
<pattern id="mesh" width="1.5" height="1.5" patternUnits="userSpaceOnUse" patternTransform="rotate(45)"><path d="M0,0.4 H1.5 M0.4,0 V1.5" stroke="#000" stroke-width="0.4" opacity="0.16"/></pattern>
<filter id="soft" x="-10%" y="-10%" width="120%" height="120%"><feTurbulence type="fractalNoise" baseFrequency="0.45" numOctaves="2" seed="3" result="n"/><feDisplacementMap in="SourceGraphic" in2="n" scale="2.2" xChannelSelector="R" yChannelSelector="G"/><feGaussianBlur stdDeviation="0.3"/></filter>
<filter id="soft2" x="-30%" y="-30%" width="160%" height="160%"><feGaussianBlur stdDeviation="1.2"/></filter>
</defs>
<g transform="translate(508.4,241.1)">
<clipPath id="sc241"><circle r="69.4"/></clipPath>
<g clip-path="url(#sc241)">
<circle r="69.4" fill="#e0e000"/>
<g filter="url(#soft)"><circle cx="19.0" cy="-41.0" r="3.0" fill="#8c8c00" opacity="0.36"/><circle cx="19.0" cy="41.0" r="3.0" fill="#8c8c00" opacity="0.36"/><circle cx="-19.0" cy="-41.0" r="3.0" fill="#8c8c00" opacity="0.36"/><circle cx="-19.0" cy="41.0" r="3.0" fill="#8c8c00" opacity="0.36"/><circle cx="27.0" cy="-37.0" r="2.6" fill="#8c8c00" opacity="0.36"/><circle cx="27.0" cy="37.0" r="2.6" fill="#8c8c00" opacity="0.36"/><circle cx="-27.0" cy="-37.0" r="2.6" fill="#8c8c00" opacity="0.36"/><circle cx="-27.0" cy="37.0" r="2.6" fill="#8c8c00" opacity="0.36"/><circle cx="33.0" cy="-33.0" r="2.2" fill="#8c8c00" opacity="0.36"/><circle cx="33.0" cy="33.0" r="2.2" fill="#8c8c00" opacity="0.36"/><circle cx="-33.0" cy="-33.0" r="2.2" fill="#8c8c00" opacity="0.36"/><circle cx="-33.0" cy="33.0" r="2.2" fill="#8c8c00" opacity="0.36"/><circle cx="44.0" cy="-30.0" r="2.2" fill="#8c8c00" opacity="0.36"/><circle cx="44.0" cy="30.0" r="2.2" fill="#8c8c00" opacity="0.36"/><circle cx="-44.0" cy="-30.0" r="2.2" fill="#8c8c00" opacity="0.36"/><circle cx="-44.0" cy="30.0" r="2.2" fill="#8c8c00" opacity="0.36"/><circle cx="55.0" cy="-12.0" r="2.2" fill="#8c8c00" opacity="0.36"/><circle cx="55.0" cy="12.0" r="2.2" fill="#8c8c00" opacity="0.36"/><circle cx="-55.0" cy="-12.0" r="2.2" fill="#8c8c00" opacity="0.36"/><circle cx="-55.0" cy="12.0" r="2.2" fill="#8c8c00" opacity="0.36"/><circle cx="8.0" cy="-62.0" r="2.0" fill="#8c8c00" opacity="0.36"/><circle cx="8.0" cy="62.0" r="2.0" fill="#8c8c00" opacity="0.36"/><circle cx="-8.0" cy="-62.0" r="2.0" fill="#8c8c00" opacity="0.36"/><circle cx="-8.0" cy="62.0" r="2.0" fill="#8c8c00" opacity="0.36"/><circle cx="50.0" cy="-22.0" r="1.8" fill="#8c8c00" opacity="0.36"/><circle cx="50.0" cy="22.0" r="1.8" fill="#8c8c00" opacity="0.36"/><circle cx="-50.0" cy="-22.0" r="1.8" fill="#8c8c00" opacity="0.36"/><circle cx="-50.0" cy="22.0" r="1.8" fill="#8c8c00" opacity="0.36"/><circle cx="60.0" cy="-3.0" r="2.0" fill="#8c8c00" opacity="0.36"/><circle cx="60.0" cy="3.0" r="2.0" fill="#8c8c00" opacity="0.36"/><circle cx="-60.0" cy="-3.0" r="2.0" fill="#8c8c00" opacity="0.36"/><circle cx="-60.0" cy="3.0" r="2.0" fill="#8c8c00" opacity="0.36"/><circle cx="38.0" cy="-46.0" r="2.0" fill="#8c8c00" opacity="0.36"/><circle cx="38.0" cy="46.0" r="2.0" fill="#8c8c00" opacity="0.36"/><circle cx="-38.0" cy="-46.0" r="2.0" fill="#8c8c00" opacity="0.36"/><circle cx="-38.0" cy="46.0" r="2.0" fill="#8c8c00" opacity="0.36"/></g><g filter="url(#soft)"><polygon points="0.0,-56.3 2.3,-56.0 3.4,-55.0 3.4,-52.4 2.3,-51.5 2.3,-45.0 4.0,-42.0 6.2,-36.6 10.7,-31.0 14.0,-27.6 16.3,-28.6 17.0,-26.5 15.2,-24.3 20.7,-24.3 21.9,-22.0 23.2,-20.0 23.6,-12.0 23.6,0.0 23.6,12.0 23.2,20.0 21.9,22.0 20.7,24.3 15.2,24.3 17.0,26.5 16.3,28.6 14.0,27.6 10.7,31.0 6.2,36.6 4.0,42.0 2.3,45.0 2.3,51.5 3.4,52.4 3.4,55.0 2.3,56.0 0.0,56.3 -2.3,56.0 -3.4,55.0 -3.4,52.4 -2.3,51.5 -2.3,45.0 -4.0,42.0 -6.2,36.6 -10.7,31.0 -14.0,27.6 -16.3,28.6 -17.0,26.5 -15.2,24.3 -20.7,24.3 -21.9,22.0 -23.2,20.0 -23.6,12.0 -23.6,0.0 -23.6,-12.0 -23.2,-20.0 -21.9,-22.0 -20.7,-24.3 -15.2,-24.3 -17.0,-26.5 -16.3,-28.6 -14.0,-27.6 -10.7,-31.0 -6.2,-36.6 -4.0,-42.0 -2.3,-45.0 -2.3,-51.5 -3.4,-52.4 -3.4,-55.0 -2.3,-56.0" fill="#da0606"/><polygon points="22.0,-23.2 24.5,-22.4 27.0,-24.2 31.0,-24.0 33.8,-22.5 34.0,-12.0 33.6,0.2 29.4,0.2 29.4,-6.4 25.4,-6.4 25.4,0.2 23.0,0.2" fill="#da0606"/><polygon points="35.4,-20.4 36.6,-21.6 40.2,-21.4 41.5,-19.5 41.6,-12.0 40.8,-4.5 39.5,-3.0 36.6,-3.0 35.4,-4.4 35.0,-12.0" fill="#da0606"/><path d="M46.9,-18.4 m-2.1,0 l1.4,-0.7 l0.7,-1.4 l0.7,1.4 l1.4,0.7 l-1.4,0.7 l-0.7,1.4 l-0.7,-1.4 z" fill="#da0606"/><polygon points="22.0,23.2 24.5,22.4 27.0,24.2 31.0,24.0 33.8,22.5 34.0,12.0 33.6,-0.2 29.4,-0.2 29.4,6.4 25.4,6.4 25.4,-0.2 23.0,-0.2" fill="#da0606"/><polygon points="35.4,20.4 36.6,21.6 40.2,21.4 41.5,19.5 41.6,12.0 40.8,4.5 39.5,3.0 36.6,3.0 35.4,4.4 35.0,12.0" fill="#da0606"/><path d="M46.9,18.4 m-2.1,0 l1.4,-0.7 l0.7,-1.4 l0.7,1.4 l1.4,0.7 l-1.4,0.7 l-0.7,1.4 l-0.7,-1.4 z" fill="#da0606"/><polygon points="-22.0,-23.2 -24.5,-22.4 -27.0,-24.2 -31.0,-24.0 -33.8,-22.5 -34.0,-12.0 -33.6,0.2 -29.4,0.2 -29.4,-6.4 -25.4,-6.4 -25.4,0.2 -23.0,0.2" fill="#da0606"/><polygon points="-35.4,-20.4 -36.6,-21.6 -40.2,-21.4 -41.5,-19.5 -41.6,-12.0 -40.8,-4.5 -39.5,-3.0 -36.6,-3.0 -35.4,-4.4 -35.0,-12.0" fill="#da0606"/><path d="M-46.9,-18.4 m-2.1,0 l1.4,-0.7 l0.7,-1.4 l0.7,1.4 l1.4,0.7 l-1.4,0.7 l-0.7,1.4 l-0.7,-1.4 z" fill="#da0606"/><polygon points="-22.0,23.2 -24.5,22.4 -27.0,24.2 -31.0,24.0 -33.8,22.5 -34.0,12.0 -33.6,-0.2 -29.4,-0.2 -29.4,6.4 -25.4,6.4 -25.4,-0.2 -23.0,-0.2" fill="#da0606"/><polygon points="-35.4,20.4 -36.6,21.6 -40.2,21.4 -41.5,19.5 -41.6,12.0 -40.8,4.5 -39.5,3.0 -36.6,3.0 -35.4,4.4 -35.0,12.0" fill="#da0606"/><path d="M-46.9,18.4 m-2.1,0 l1.4,-0.7 l0.7,-1.4 l0.7,1.4 l1.4,0.7 l-1.4,0.7 l-0.7,1.4 l-0.7,-1.4 z" fill="#da0606"/></g>
<circle r="69.4" fill="url(#mesh)"/>
<circle r="69.4" fill="url(#shade)"/>
<circle r="69.4" fill="url(#rim)"/>
</g>
<circle r="69.2" fill="none" stroke="#080800" stroke-width="0.9" opacity="0.9"/>
</g>
<g transform="translate(507.6,399.7)">
<clipPath id="sc399"><circle r="69.5"/></clipPath>
<g clip-path="url(#sc399)">
<circle r="69.5" fill="#e0e000"/>
<polygon points="0.0,-45.0 8.0,-41.0 12.0,-35.0 20.0,-31.0 24.0,-24.0 31.0,-20.0 34.0,-12.0 39.0,-8.0 41.0,0.0 39.0,8.0 34.0,12.0 31.0,20.0 24.0,24.0 20.0,31.0 12.0,35.0 8.0,41.0 0.0,45.0 -8.0,41.0 -12.0,35.0 -20.0,31.0 -24.0,24.0 -31.0,20.0 -34.0,12.0 -39.0,8.0 -41.0,0.0 -39.0,-8.0 -34.0,-12.0 -31.0,-20.0 -24.0,-24.0 -20.0,-31.0 -12.0,-35.0 -8.0,-41.0" fill="#e6e600" opacity="0.75" filter="url(#soft)"/><g filter="url(#soft)"><circle cx="22.0" cy="-42.0" r="3.0" fill="#8a8a00" opacity="0.36"/><circle cx="22.0" cy="42.0" r="3.0" fill="#8a8a00" opacity="0.36"/><circle cx="-22.0" cy="-42.0" r="3.0" fill="#8a8a00" opacity="0.36"/><circle cx="-22.0" cy="42.0" r="3.0" fill="#8a8a00" opacity="0.36"/><circle cx="33.0" cy="-34.0" r="2.8" fill="#8a8a00" opacity="0.36"/><circle cx="33.0" cy="34.0" r="2.8" fill="#8a8a00" opacity="0.36"/><circle cx="-33.0" cy="-34.0" r="2.8" fill="#8a8a00" opacity="0.36"/><circle cx="-33.0" cy="34.0" r="2.8" fill="#8a8a00" opacity="0.36"/><circle cx="46.0" cy="-26.0" r="2.4" fill="#8a8a00" opacity="0.36"/><circle cx="46.0" cy="26.0" r="2.4" fill="#8a8a00" opacity="0.36"/><circle cx="-46.0" cy="-26.0" r="2.4" fill="#8a8a00" opacity="0.36"/><circle cx="-46.0" cy="26.0" r="2.4" fill="#8a8a00" opacity="0.36"/><circle cx="56.0" cy="-8.0" r="2.4" fill="#8a8a00" opacity="0.36"/><circle cx="56.0" cy="8.0" r="2.4" fill="#8a8a00" opacity="0.36"/><circle cx="-56.0" cy="-8.0" r="2.4" fill="#8a8a00" opacity="0.36"/><circle cx="-56.0" cy="8.0" r="2.4" fill="#8a8a00" opacity="0.36"/><circle cx="10.0" cy="-62.0" r="2.0" fill="#8a8a00" opacity="0.36"/><circle cx="10.0" cy="62.0" r="2.0" fill="#8a8a00" opacity="0.36"/><circle cx="-10.0" cy="-62.0" r="2.0" fill="#8a8a00" opacity="0.36"/><circle cx="-10.0" cy="62.0" r="2.0" fill="#8a8a00" opacity="0.36"/><circle cx="38.0" cy="-48.0" r="2.4" fill="#8a8a00" opacity="0.36"/><circle cx="38.0" cy="48.0" r="2.4" fill="#8a8a00" opacity="0.36"/><circle cx="-38.0" cy="-48.0" r="2.4" fill="#8a8a00" opacity="0.36"/><circle cx="-38.0" cy="48.0" r="2.4" fill="#8a8a00" opacity="0.36"/><circle cx="23.0" cy="-22.0" r="3.4" fill="#8a8a00" opacity="0.36"/><circle cx="23.0" cy="22.0" r="3.4" fill="#8a8a00" opacity="0.36"/><circle cx="-23.0" cy="-22.0" r="3.4" fill="#8a8a00" opacity="0.36"/><circle cx="-23.0" cy="22.0" r="3.4" fill="#8a8a00" opacity="0.36"/><circle cx="30.0" cy="-10.0" r="3.0" fill="#8a8a00" opacity="0.36"/><circle cx="30.0" cy="10.0" r="3.0" fill="#8a8a00" opacity="0.36"/><circle cx="-30.0" cy="-10.0" r="3.0" fill="#8a8a00" opacity="0.36"/><circle cx="-30.0" cy="10.0" r="3.0" fill="#8a8a00" opacity="0.36"/><circle cx="10.0" cy="-40.0" r="2.6" fill="#8a8a00" opacity="0.36"/><circle cx="10.0" cy="40.0" r="2.6" fill="#8a8a00" opacity="0.36"/><circle cx="-10.0" cy="-40.0" r="2.6" fill="#8a8a00" opacity="0.36"/><circle cx="-10.0" cy="40.0" r="2.6" fill="#8a8a00" opacity="0.36"/><circle cx="0.0" cy="-47.0" r="3.0" fill="#8a8a00" opacity="0.36"/><circle cx="0.0" cy="47.0" r="3.0" fill="#8a8a00" opacity="0.36"/><circle cx="0.0" cy="-47.0" r="3.0" fill="#8a8a00" opacity="0.36"/><circle cx="0.0" cy="47.0" r="3.0" fill="#8a8a00" opacity="0.36"/><circle cx="31.0" cy="0.0" r="3.0" fill="#8a8a00" opacity="0.36"/><circle cx="31.0" cy="0.0" r="3.0" fill="#8a8a00" opacity="0.36"/><circle cx="-31.0" cy="0.0" r="3.0" fill="#8a8a00" opacity="0.36"/><circle cx="-31.0" cy="0.0" r="3.0" fill="#8a8a00" opacity="0.36"/><circle cx="60.0" cy="-22.0" r="1.8" fill="#8a8a00" opacity="0.36"/><circle cx="60.0" cy="22.0" r="1.8" fill="#8a8a00" opacity="0.36"/><circle cx="-60.0" cy="-22.0" r="1.8" fill="#8a8a00" opacity="0.36"/><circle cx="-60.0" cy="22.0" r="1.8" fill="#8a8a00" opacity="0.36"/><circle cx="48.0" cy="-44.0" r="2.0" fill="#8a8a00" opacity="0.36"/><circle cx="48.0" cy="44.0" r="2.0" fill="#8a8a00" opacity="0.36"/><circle cx="-48.0" cy="-44.0" r="2.0" fill="#8a8a00" opacity="0.36"/><circle cx="-48.0" cy="44.0" r="2.0" fill="#8a8a00" opacity="0.36"/></g><g filter="url(#soft2)"><ellipse cx="18.0" cy="0" rx="7.0" ry="12.0" fill="#eaea00" opacity="0.9"/><ellipse cx="20.0" cy="0" rx="8.5" ry="6.5" fill="#eaea00" opacity="0.7"/><ellipse cx="-18.0" cy="0" rx="7.0" ry="12.0" fill="#eaea00" opacity="0.9"/><ellipse cx="-20.0" cy="0" rx="8.5" ry="6.5" fill="#eaea00" opacity="0.7"/></g><polygon points="0.0,-32.0 1.4,-31.4 2.9,-30.3 6.3,-26.3 8.6,-23.5 12.0,-23.0 14.2,-21.3 16.5,-21.8 16.6,-19.5 16.0,-17.3 13.1,-15.6 12.5,-11.6 15.4,-9.4 14.2,-6.0 12.0,-3.7 10.3,0.0 12.0,3.7 14.2,6.0 15.4,9.4 12.5,11.6 13.1,15.6 16.0,17.3 16.6,19.5 16.5,21.8 14.2,21.3 12.0,23.0 8.6,23.5 6.3,26.3 2.9,30.3 1.4,31.4 0.0,32.0 -1.4,31.4 -2.9,30.3 -6.3,26.3 -8.6,23.5 -12.0,23.0 -14.2,21.3 -16.5,21.8 -16.6,19.5 -16.0,17.3 -13.1,15.6 -12.5,11.6 -15.4,9.4 -14.2,6.0 -12.0,3.7 -10.3,0.0 -12.0,-3.7 -14.2,-6.0 -15.4,-9.4 -12.5,-11.6 -13.1,-15.6 -16.0,-17.3 -16.6,-19.5 -16.5,-21.8 -14.2,-21.3 -12.0,-23.0 -8.6,-23.5 -6.3,-26.3 -2.9,-30.3 -1.4,-31.4" fill="#da0606" filter="url(#soft)"/>
<circle r="69.5" fill="url(#mesh)"/>
<circle r="69.5" fill="url(#shade)"/>
<circle r="69.5" fill="url(#rim)"/>
</g>
<circle r="69.3" fill="none" stroke="#080800" stroke-width="0.9" opacity="0.9"/>
</g>
</g>
</svg>
</body></html>
